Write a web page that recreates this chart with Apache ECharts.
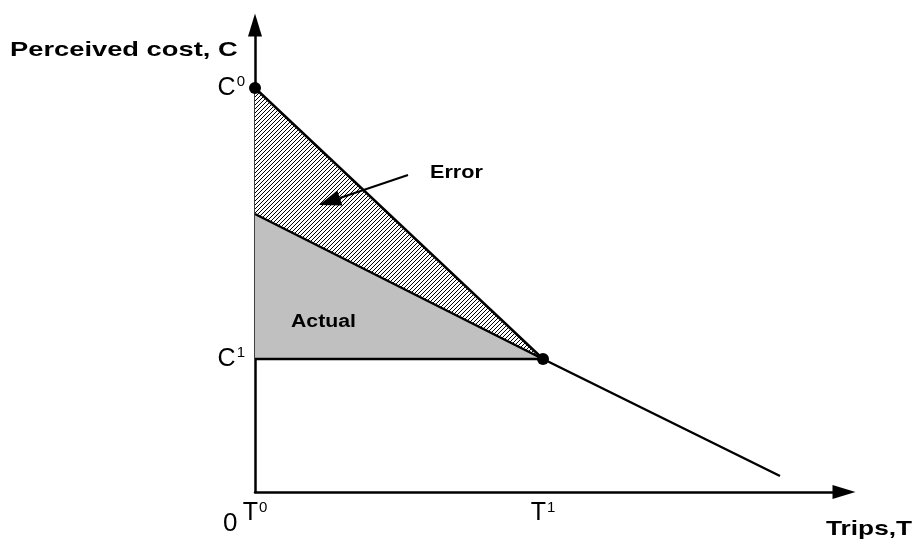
<!DOCTYPE html>
<html>
<head>
<meta charset="utf-8">
<script src="https://cdn.jsdelivr.net/npm/echarts@6/dist/echarts.min.js"></script>
<style>
  html, body { margin: 0; padding: 0; background: #fff; }
  #chart { width: 912px; height: 544px; }
</style>
</head>
<body>
<div id="chart"></div>
<script>
// values (x = trips, y = perceived cost)
var perceivedLine = [[0, 404], [288, 133]];          // C0 -> T1
var actualLine = [[0, 278], [288, 133], [525, 16]];   // actual cost curve
var c1Line = [[0, 133], [288, 133]];
var errorArea = [[0, 404], [0, 278], [288, 133]];
var actualArea = [[0, 278], [288, 133], [0, 133]];
var keyPoints = [[0, 404], [288, 133]];
var errorArrow = [[153, 317], [64, 287]];             // tail -> head
var xTicks = [0, 288];
var xTickLabels = ['T{s|0}', 'T{s|1}'];
var yTicks = [133, 404];
var yTickLabels = ['C{s|1}', 'C{s|0}'];

var chart = echarts.init(document.getElementById('chart'));

// diagonal hatch for the error triangle
var hatch = document.createElement('canvas');
hatch.width = 4;
hatch.height = 4;
var hc = hatch.getContext('2d');
hc.fillStyle = '#fff';
hc.fillRect(0, 0, 4, 4);
hc.strokeStyle = '#000';
hc.lineWidth = 1;
hc.beginPath();
hc.moveTo(-1, 5); hc.lineTo(5, -1);
hc.moveTo(-1, 1); hc.lineTo(1, -1);
hc.moveTo(3, 5); hc.lineTo(5, 3);
hc.stroke();

function polygonSeries(points, fill, z) {
  return {
    type: 'custom',
    z: z,
    silent: true,
    data: [0],
    renderItem: function (params, api) {
      return {
        type: 'polygon',
        shape: { points: points.map(function (p) { return api.coord(p); }) },
        style: { fill: fill, stroke: null }
      };
    }
  };
}

function lineSeries(data) {
  return {
    type: 'line',
    data: data,
    symbol: 'none',
    z: 5,
    silent: true,
    lineStyle: { color: '#000', width: 2.5 }
  };
}

// the picture's bold text is stretched sideways
function label(x, y, text, font, sx) {
  return {
    type: 'text', x: x, y: y, scaleX: sx, z: 100, silent: true,
    style: { text: text, font: font, fill: '#000', verticalAlign: 'top' }
  };
}

var axisLabelRich = {
  s: { fontSize: 15, fontFamily: 'Liberation Sans, Arial', color: '#000', padding: [0, 0, 12, 1] }
};

chart.setOption({
  animation: false,
  grid: { left: 255, top: 25, right: 68, bottom: 52, containLabel: false },
  xAxis: {
    type: 'value', min: 0, max: 589,
    splitLine: { show: false },
    axisTick: { show: false },
    axisLine: {
      onZero: false,
      lineStyle: { color: '#000', width: 2.5 },
      symbol: ['none', 'triangle'], symbolSize: [14, 23]
    },
    axisLabel: {
      customValues: xTicks,
      formatter: function (v) { return xTickLabels[xTicks.indexOf(v)]; },
      margin: 8,
      fontSize: 25,
      fontFamily: 'Liberation Sans, Arial',
      color: '#000',
      rich: axisLabelRich
    }
  },
  yAxis: {
    type: 'value', min: 0, max: 467,
    splitLine: { show: false },
    axisTick: { show: false },
    axisLine: {
      onZero: false,
      lineStyle: { color: '#000', width: 2.5 },
      symbol: ['none', 'triangle'], symbolSize: [14, 23]
    },
    axisLabel: {
      customValues: yTicks,
      formatter: function (v) { return yTickLabels[yTicks.indexOf(v)]; },
      margin: 10,
      fontSize: 25,
      fontFamily: 'Liberation Sans, Arial',
      color: '#000',
      rich: axisLabelRich
    }
  },
  graphic: [
    label(10, 40, 'Perceived cost, C', 'bold 21px "Liberation Sans", Arial', 1.3),
    label(826, 519, 'Trips,T', 'bold 21px "Liberation Sans", Arial', 1.25),
    label(223, 511, '0', '26px "Liberation Sans", Arial', 1),
    label(430, 164, 'Error', 'bold 18px "Liberation Sans", Arial', 1.2),
    label(291, 313, 'Actual', 'bold 18px "Liberation Sans", Arial', 1.18)
  ],
  series: [
    polygonSeries(errorArea, { image: hatch, repeat: 'repeat' }, 1),
    polygonSeries(actualArea, '#c0c0c0', 1),
    lineSeries(perceivedLine),
    lineSeries(actualLine),
    lineSeries(c1Line),
    {
      type: 'custom',
      z: 6,
      silent: true,
      data: [0],
      renderItem: function (params, api) {
        var a = api.coord(errorArrow[0]);
        var b = api.coord(errorArrow[1]);
        var dx = b[0] - a[0], dy = b[1] - a[1];
        var len = Math.sqrt(dx * dx + dy * dy);
        var ux = dx / len, uy = dy / len;
        var hl = 22, hw = 8;
        var bx = b[0] - ux * hl, by = b[1] - uy * hl;
        return {
          type: 'group',
          children: [
            { type: 'line', shape: { x1: a[0], y1: a[1], x2: bx, y2: by }, style: { stroke: '#000', lineWidth: 2 } },
            { type: 'polygon', shape: { points: [b, [bx - uy * hw, by + ux * hw], [bx + uy * hw, by - ux * hw]] }, style: { fill: '#000' } }
          ]
        };
      }
    },
    {
      type: 'scatter',
      data: keyPoints,
      symbolSize: 12,
      z: 7,
      silent: true,
      itemStyle: { color: '#000', opacity: 1 }
    }
  ]
});
</script>
</body>
</html>
